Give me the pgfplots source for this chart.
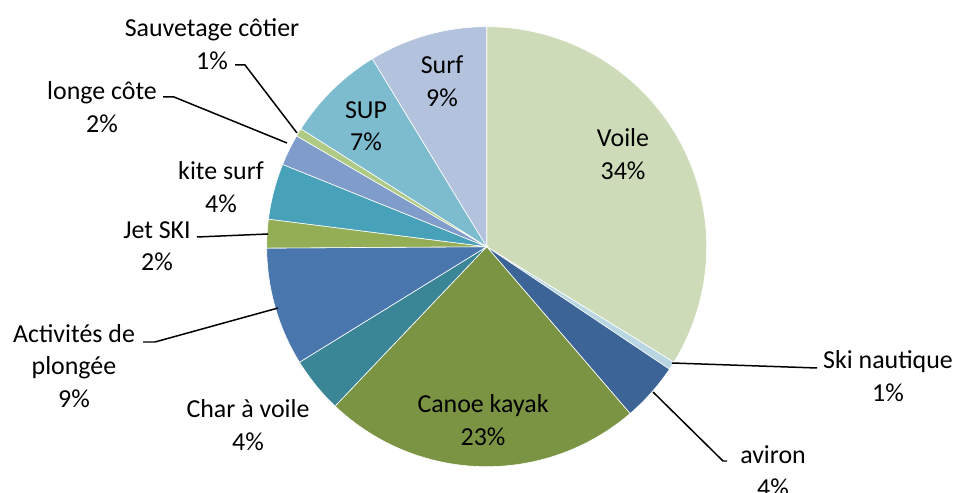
\documentclass[border=0pt]{standalone}
\usepackage{pgfplots}
\usepackage{pgfplotstable}
\usepackage{fontspec}
\setmainfont{Carlito}
\pgfplotsset{compat=1.18}

\definecolor{slice0}{RGB}{206,219,184}
\definecolor{slice1}{RGB}{185,215,226}
\definecolor{slice2}{RGB}{60,100,150}
\definecolor{slice3}{RGB}{123,148,68}
\definecolor{slice4}{RGB}{58,134,150}
\definecolor{slice5}{RGB}{72,118,173}
\definecolor{slice6}{RGB}{147,174,85}
\definecolor{slice7}{RGB}{71,161,184}
\definecolor{slice8}{RGB}{127,156,203}
\definecolor{slice9}{RGB}{175,202,133}
\definecolor{slice10}{RGB}{125,187,206}
\definecolor{slice11}{RGB}{179,194,221}

\pgfplotstableread{
name value
Voile 33.8
Ski 0.6
aviron 4.3
Canoe 23.4
Char 4.1
Plongee 8.7
Jet 2.1
Kite 4.1
Longe 2.3
Sauvetage 0.6
SUP 7.3
Surf 8.7
}\datatable

\def\cx{486.7}
\def\cy{-246.7}
\def\r{220}

\tikzset{lbl/.style={font=\fontsize{13}{16.3}\selectfont, align=center, text=black, inner sep=0pt}}

\begin{document}
\begin{tikzpicture}
\begin{axis}[
  scale only axis, width=478bp, height=246.5bp,
  xmin=0, xmax=956, ymin=-493, ymax=0,
  hide axis, clip=false,
]
\def\cum{90}
\pgfplotsforeachungrouped \i in {0,...,11}{%
  \pgfplotstablegetelem{\i}{value}\of\datatable
  \pgfmathsetmacro\a{\cum}%
  \pgfmathsetmacro\b{\cum-3.6*\pgfplotsretval}%
  \xdef\cum{\b}%
  \edef\tmp{\noexpand\addplot[fill=slice\i, draw=white, line width=0.3pt, domain=\b:\a, samples=60, variable=\noexpand\t] ({\cx+\r*cos(\noexpand\t)},{\cy+\r*sin(\noexpand\t)}) -- (axis cs:\cx,\cy) -- cycle;}%
  \tmp
}
% leader lines
\addplot[black, line width=0.75pt] coordinates {(235,-65) (245,-65) (297,-133)};
\addplot[black, line width=0.75pt] coordinates {(163,-97) (174,-97) (287,-143)};
\addplot[black, line width=0.75pt] coordinates {(197,-237) (268,-234)};
\addplot[black, line width=0.75pt] coordinates {(143,-342) (155,-342) (278,-308)};
\addplot[black, line width=0.75pt] coordinates {(817,-368) (672,-363)};
\addplot[black, line width=0.75pt] coordinates {(653,-392) (723,-461) (727,-461)};
% labels
\node[lbl] at (axis cs:623,-154) {Voile\\34\%};
\node[lbl] at (axis cs:442,-81) {Surf\\9\%};
\node[lbl] at (axis cs:366,-126) {SUP\\7\%};
\node[lbl] at (axis cs:483,-420) {Canoe kayak\\23\%};
\node[lbl] at (axis cs:212,-44) {Sauvetage côtier\\1\%};
\node[lbl] at (axis cs:102,-107) {longe côte\\2\%};
\node[lbl] at (axis cs:221,-187) {kite surf\\4\%};
\node[lbl] at (axis cs:157,-246) {Jet SKI\\2\%};
\node[lbl] at (axis cs:74,-366) {Activités de\\plongée\\9\%};
\node[lbl] at (axis cs:248,-425) {Char à voile\\4\%};
\node[lbl] at (axis cs:888,-376) {Ski nautique\\1\%};
\node[lbl] at (axis cs:773,-471) {aviron\\4\%};
\end{axis}
\pgfresetboundingbox
\path (current axis.south west) rectangle (current axis.north east);
\end{tikzpicture}
\end{document}
